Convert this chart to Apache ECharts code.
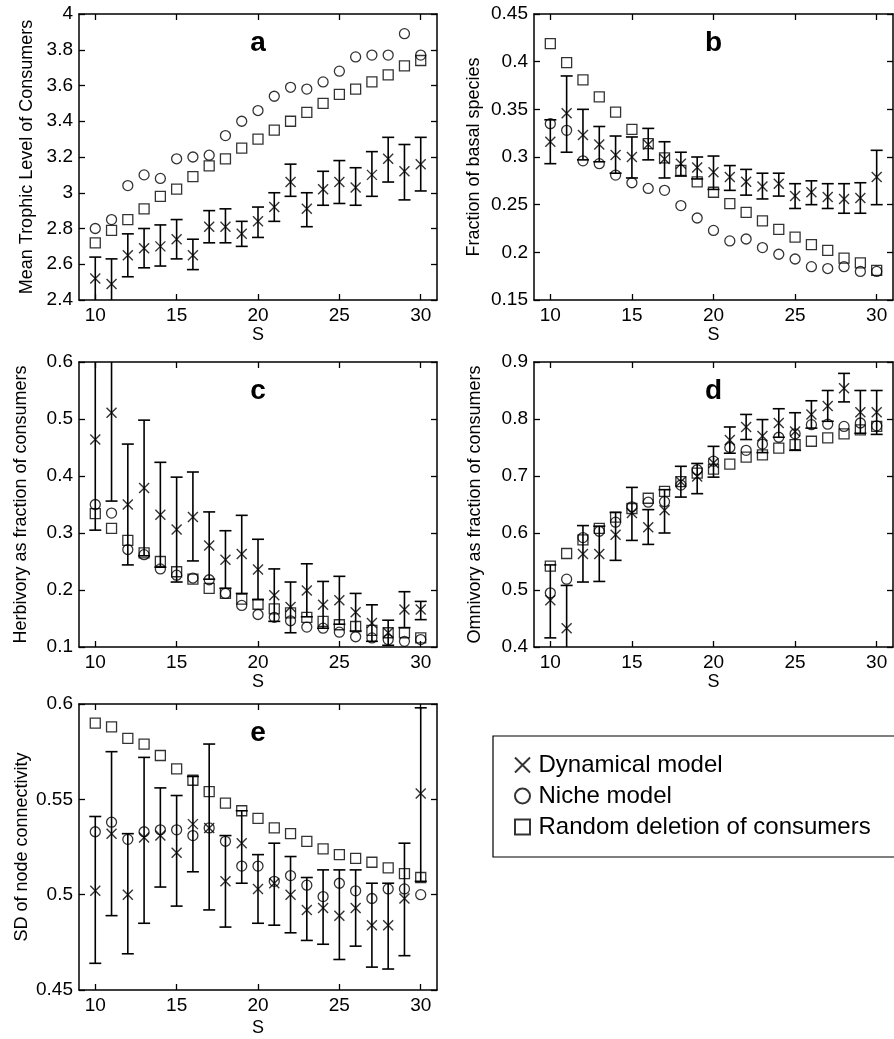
<!DOCTYPE html>
<html>
<head>
<meta charset="utf-8">
<script src="https://cdn.jsdelivr.net/npm/echarts@6/dist/echarts.min.js"></script>
<style>
  html, body { margin: 0; padding: 0; background: #fff; }
  #chart { width: 894px; height: 1039px; }
</style>
</head>
<body>
<div id="chart"></div>
<script>
// species richness S on the x axis
const S = [10, 11, 12, 13, 14, 15, 16, 17, 18, 19, 20, 21, 22, 23, 24, 25, 26, 27, 28, 29, 30];
const xTicks = [10, 15, 20, 25, 30];

// a - mean trophic level of consumers
const aDyn   = [2.52, 2.49, 2.65, 2.69, 2.70, 2.74, 2.65, 2.81, 2.81, 2.77, 2.84, 2.92, 3.06, 2.91, 3.02, 3.06, 3.03, 3.10, 3.19, 3.12, 3.16];
const aDynLo = [2.39, 2.35, 2.53, 2.58, 2.59, 2.63, 2.57, 2.72, 2.72, 2.70, 2.75, 2.84, 2.98, 2.81, 2.93, 2.94, 2.93, 2.98, 3.06, 2.96, 3.01];
const aDynHi = [2.64, 2.63, 2.77, 2.80, 2.82, 2.85, 2.74, 2.90, 2.91, 2.84, 2.92, 3.00, 3.16, 3.00, 3.12, 3.18, 3.14, 3.23, 3.31, 3.27, 3.31];
const aNiche = [2.80, 2.85, 3.04, 3.10, 3.08, 3.19, 3.20, 3.21, 3.32, 3.40, 3.46, 3.54, 3.59, 3.58, 3.62, 3.68, 3.76, 3.77, 3.77, 3.89, 3.77];
const aRand  = [2.72, 2.79, 2.85, 2.91, 2.98, 3.02, 3.09, 3.15, 3.19, 3.25, 3.30, 3.35, 3.40, 3.45, 3.50, 3.55, 3.58, 3.62, 3.66, 3.71, 3.74];

// b - fraction of basal species
const bDyn   = [0.316, 0.346, 0.323, 0.313, 0.302, 0.300, 0.313, 0.298, 0.293, 0.289, 0.284, 0.279, 0.274, 0.269, 0.272, 0.259, 0.263, 0.258, 0.256, 0.257, 0.279];
const bDynLo = [0.293, 0.305, 0.297, 0.295, 0.283, 0.278, 0.297, 0.278, 0.280, 0.277, 0.266, 0.265, 0.260, 0.256, 0.259, 0.246, 0.250, 0.246, 0.241, 0.241, 0.250];
const bDynHi = [0.339, 0.385, 0.350, 0.332, 0.322, 0.321, 0.330, 0.316, 0.305, 0.300, 0.301, 0.291, 0.287, 0.283, 0.283, 0.272, 0.275, 0.272, 0.272, 0.273, 0.307];
const bNiche = [0.335, 0.328, 0.296, 0.293, 0.281, 0.273, 0.267, 0.265, 0.249, 0.236, 0.223, 0.212, 0.214, 0.205, 0.198, 0.193, 0.185, 0.183, 0.185, 0.180, 0.180];
const bRand  = [0.419, 0.399, 0.381, 0.363, 0.347, 0.329, 0.314, 0.299, 0.286, 0.274, 0.263, 0.251, 0.242, 0.233, 0.224, 0.216, 0.208, 0.202, 0.194, 0.189, 0.181];

// c - herbivory as fraction of consumers
const cDyn   = [0.464, 0.511, 0.350, 0.379, 0.332, 0.306, 0.328, 0.278, 0.253, 0.263, 0.236, 0.191, 0.170, 0.199, 0.174, 0.182, 0.161, 0.142, 0.125, 0.166, 0.166];
const cDynLo = [0.305, 0.356, 0.244, 0.260, 0.240, 0.214, 0.251, 0.219, 0.203, 0.194, 0.183, 0.145, 0.125, 0.153, 0.133, 0.140, 0.128, 0.110, 0.103, 0.134, 0.148];
const cDynHi = [0.623, 0.665, 0.456, 0.498, 0.424, 0.398, 0.407, 0.337, 0.304, 0.331, 0.289, 0.237, 0.214, 0.246, 0.215, 0.224, 0.194, 0.174, 0.147, 0.197, 0.180];
const cNiche = [0.350, 0.335, 0.271, 0.262, 0.237, 0.226, 0.221, 0.218, 0.194, 0.173, 0.157, 0.152, 0.146, 0.135, 0.133, 0.126, 0.118, 0.116, 0.113, 0.110, 0.113];
const cRand  = [0.334, 0.308, 0.287, 0.265, 0.250, 0.232, 0.219, 0.203, 0.194, 0.184, 0.175, 0.167, 0.160, 0.152, 0.145, 0.139, 0.136, 0.129, 0.125, 0.125, 0.116];

// d - omnivory as fraction of consumers
const dDyn   = [0.482, 0.433, 0.563, 0.563, 0.597, 0.635, 0.610, 0.640, 0.690, 0.699, 0.723, 0.763, 0.786, 0.770, 0.793, 0.778, 0.808, 0.823, 0.854, 0.812, 0.812];
const dDynLo = [0.416, 0.358, 0.514, 0.515, 0.552, 0.587, 0.580, 0.600, 0.663, 0.669, 0.698, 0.740, 0.764, 0.741, 0.768, 0.745, 0.784, 0.796, 0.830, 0.775, 0.773];
const dDynHi = [0.544, 0.508, 0.613, 0.612, 0.636, 0.680, 0.641, 0.676, 0.717, 0.722, 0.752, 0.786, 0.808, 0.799, 0.818, 0.811, 0.832, 0.850, 0.880, 0.850, 0.850];
const dNiche = [0.495, 0.519, 0.592, 0.603, 0.619, 0.646, 0.654, 0.655, 0.684, 0.711, 0.726, 0.750, 0.745, 0.756, 0.768, 0.774, 0.790, 0.791, 0.787, 0.793, 0.788];
const dRand  = [0.542, 0.564, 0.588, 0.608, 0.628, 0.643, 0.661, 0.673, 0.690, 0.705, 0.712, 0.721, 0.733, 0.737, 0.749, 0.755, 0.761, 0.767, 0.774, 0.781, 0.787];

// e - SD of node connectivity
const eDyn   = [0.502, 0.532, 0.500, 0.530, 0.531, 0.522, 0.537, 0.535, 0.507, 0.527, 0.503, 0.506, 0.500, 0.492, 0.493, 0.489, 0.493, 0.484, 0.484, 0.498, 0.553];
const eDynLo = [0.464, 0.489, 0.469, 0.485, 0.504, 0.494, 0.512, 0.492, 0.483, 0.506, 0.485, 0.484, 0.480, 0.476, 0.474, 0.466, 0.473, 0.462, 0.461, 0.468, 0.507];
const eDynHi = [0.541, 0.575, 0.532, 0.572, 0.556, 0.552, 0.562, 0.579, 0.531, 0.544, 0.521, 0.527, 0.520, 0.509, 0.513, 0.513, 0.513, 0.506, 0.506, 0.527, 0.598];
const eNiche = [0.533, 0.538, 0.529, 0.533, 0.534, 0.534, 0.531, 0.535, 0.528, 0.515, 0.515, 0.507, 0.510, 0.505, 0.499, 0.506, 0.502, 0.498, 0.503, 0.503, 0.500];
const eRand  = [0.590, 0.588, 0.582, 0.579, 0.573, 0.566, 0.560, 0.554, 0.548, 0.544, 0.540, 0.535, 0.532, 0.528, 0.524, 0.521, 0.519, 0.517, 0.514, 0.511, 0.509];

const NAMES = ['Dynamical model', 'Niche model', 'Random deletion of consumers'];
const FONT = 'Liberation Sans, Arial, sans-serif';
const CROSS = 'path://M0,0L10,10M0,10L10,0';
const SQUARE = 'path://M0,0L10,0L10,10L0,10Z';

const panels = [
  { letter: 'a', title: 'Mean Trophic Level of Consumers', min: 2.4, max: 4, step: 0.2, dyn: aDyn, lo: aDynLo, hi: aDynHi, niche: aNiche, rand: aRand },
  { letter: 'b', title: 'Fraction of basal species', min: 0.15, max: 0.45, step: 0.05, dyn: bDyn, lo: bDynLo, hi: bDynHi, niche: bNiche, rand: bRand },
  { letter: 'c', title: 'Herbivory as fraction of consumers', min: 0.1, max: 0.6, step: 0.1, dyn: cDyn, lo: cDynLo, hi: cDynHi, niche: cNiche, rand: cRand },
  { letter: 'd', title: 'Omnivory as fraction of consumers', min: 0.4, max: 0.9, step: 0.1, dyn: dDyn, lo: dDynLo, hi: dDynHi, niche: dNiche, rand: dRand },
  { letter: 'e', title: 'SD of node connectivity', min: 0.45, max: 0.6, step: 0.05, dyn: eDyn, lo: eDynLo, hi: eDynHi, niche: eNiche, rand: eRand }
];

// panel boxes in pixels
const boxes = [
  { left: 79,  top: 14,  width: 358, height: 286, yGap: 43, sGap: 24 },
  { left: 534, top: 14,  width: 359, height: 286, yGap: 51, sGap: 24 },
  { left: 79,  top: 362, width: 358, height: 285, yGap: 49, sGap: 24 },
  { left: 534, top: 362, width: 359, height: 285, yGap: 50, sGap: 24 },
  { left: 79,  top: 704, width: 358, height: 286, yGap: 48, sGap: 29 }
];

const black = '#000';
const tickLabel = { color: black, fontSize: 19, fontFamily: FONT };
const frameLine = { show: true, onZero: false, lineStyle: { color: black, width: 1.5 } };
const inTick = { show: true, inside: true, length: 6, lineStyle: { color: black, width: 1.3 } };

const grid = [], xAxis = [], yAxis = [], series = [], graphic = [];

panels.forEach((p, i) => {
  const b = boxes[i];
  grid.push({ left: b.left, top: b.top, width: b.width, height: b.height });

  // bottom + top x axes
  xAxis.push({
    gridIndex: i, type: 'value', min: 9, max: 31, position: 'bottom',
    name: 'S', nameLocation: 'middle', nameGap: b.sGap,
    nameTextStyle: { color: black, fontSize: 18, fontFamily: FONT },
    axisLine: frameLine,
    axisTick: Object.assign({ customValues: xTicks }, inTick),
    axisLabel: Object.assign({ customValues: xTicks, margin: 6 }, tickLabel),
    splitLine: { show: false }
  });
  xAxis.push({
    gridIndex: i, type: 'value', min: 9, max: 31, position: 'top',
    axisLine: frameLine,
    axisTick: Object.assign({ customValues: xTicks }, inTick),
    axisLabel: { show: false },
    splitLine: { show: false }
  });

  // left + right y axes
  yAxis.push({
    gridIndex: i, type: 'value', min: p.min, max: p.max, interval: p.step, position: 'left',
    name: p.title, nameLocation: 'middle', nameGap: b.yGap,
    nameTextStyle: { color: black, fontSize: 18, fontFamily: FONT },
    axisLine: frameLine, axisTick: inTick,
    axisLabel: Object.assign({ margin: 6 }, tickLabel),
    splitLine: { show: false }
  });
  yAxis.push({
    gridIndex: i, type: 'value', min: p.min, max: p.max, interval: p.step, position: 'right',
    axisLine: frameLine, axisTick: inTick,
    axisLabel: { show: false },
    splitLine: { show: false }
  });

  const xi = 2 * i, yi = 2 * i;

  // error bars of the dynamical model
  series.push({
    type: 'custom', xAxisIndex: xi, yAxisIndex: yi, clip: true, silent: true,
    data: S.map((s, k) => [s, p.lo[k], p.hi[k]]),
    encode: { x: 0, y: [1, 2] },
    renderItem: function (params, api) {
      const x = api.value(0);
      const lo = api.coord([x, api.value(1)]);
      const hi = api.coord([x, api.value(2)]);
      const w = 6;
      const st = { stroke: black, lineWidth: 1.6 };
      return {
        type: 'group',
        children: [
          { type: 'line', shape: { x1: lo[0], y1: lo[1], x2: hi[0], y2: hi[1] }, style: st },
          { type: 'line', shape: { x1: lo[0] - w, y1: lo[1], x2: lo[0] + w, y2: lo[1] }, style: st },
          { type: 'line', shape: { x1: hi[0] - w, y1: hi[1], x2: hi[0] + w, y2: hi[1] }, style: st }
        ]
      };
    }
  });

  series.push({
    name: NAMES[0], type: 'scatter', xAxisIndex: xi, yAxisIndex: yi,
    symbol: CROSS, symbolSize: 10,
    itemStyle: { color: 'rgba(0,0,0,0)', borderColor: black, borderWidth: 1.4 },
    data: S.map((s, k) => [s, p.dyn[k]])
  });
  series.push({
    name: NAMES[1], type: 'scatter', xAxisIndex: xi, yAxisIndex: yi,
    symbol: 'circle', symbolSize: 10,
    itemStyle: { color: 'rgba(0,0,0,0)', borderColor: black, borderWidth: 1.3 },
    data: S.map((s, k) => [s, p.niche[k]])
  });
  series.push({
    name: NAMES[2], type: 'scatter', xAxisIndex: xi, yAxisIndex: yi,
    symbol: SQUARE, symbolSize: 10,
    itemStyle: { color: 'rgba(0,0,0,0)', borderColor: black, borderWidth: 1.3 },
    data: S.map((s, k) => [s, p.rand[k]])
  });

  // panel letter
  graphic.push({
    type: 'text', x: b.left + b.width / 2, y: b.top + 29,
    style: { text: p.letter, fill: black, font: 'bold 28px ' + FONT, align: 'center', verticalAlign: 'middle' }
  });
});

const chart = echarts.init(document.getElementById('chart'), null, { renderer: 'canvas' });
chart.setOption({
  animation: false,
  backgroundColor: '#fff',
  grid, xAxis, yAxis, series, graphic,
  legend: {
    data: [
      { name: NAMES[0], icon: CROSS },
      { name: NAMES[1], icon: 'circle' },
      { name: NAMES[2], icon: SQUARE }
    ],
    orient: 'vertical',
    left: 493, top: 736,
    padding: [17, 40, 18, 21],
    itemGap: 7,
    itemWidth: 22, itemHeight: 15,
    borderColor: black, borderWidth: 1.2,
    selectedMode: false,
    textStyle: { color: black, fontSize: 24, lineHeight: 24, fontFamily: FONT }
  }
});
</script>
</body>
</html>
